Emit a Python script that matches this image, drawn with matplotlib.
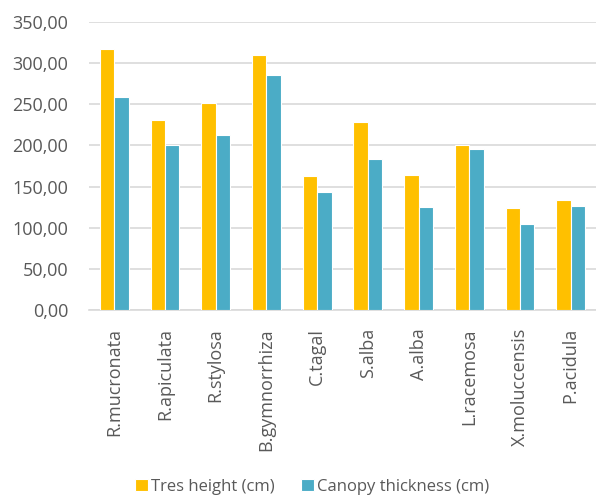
import matplotlib
matplotlib.use("Agg")
import matplotlib.pyplot as plt
import numpy as np
from matplotlib.ticker import FuncFormatter

species = ["R.mucronata", "R.apiculata", "R.stylosa", "B.gymnorrhiza", "C.tagal",
           "S.alba", "A.alba", "L.racemosa", "X.moluccensis", "P.acidula"]
tree_height = [317, 231, 251, 310, 163, 229, 164, 201, 124, 134]
canopy_thickness = [259, 201, 213, 286, 143, 183, 125, 196, 105, 126]
series_names = ["Tres height (cm)", "Canopy thickness (cm)"]

plt.rcParams['font.family'] = ['Open Sans', 'DejaVu Sans']
txt = "#595959"
grid = "#d9d9d9"

fig = plt.figure(figsize=(5.96, 4.95), dpi=100)
ax = fig.add_axes([89/596, 1 - 310/495, 507/596, 288/495])

x = np.arange(len(species))
w = 0.285
ax.bar(x - w/2, tree_height, w, color="#FFC000", edgecolor="white", linewidth=0.8,
       label=series_names[0], zorder=3)
ax.bar(x + w/2, canopy_thickness, w, color="#4BACC6", edgecolor="white", linewidth=0.8,
       label=series_names[1], zorder=3)

ax.set_xlim(-0.5, len(species) - 0.5)
ax.set_ylim(0, 350)
ax.set_yticks(np.arange(0, 351, 50))
ax.yaxis.set_major_formatter(FuncFormatter(lambda v, p: f"{v:.2f}".replace(".", ",")))
ax.set_xticks(x)
ax.set_xticklabels(species, rotation=90)

ax.grid(axis="y", color=grid, linewidth=1.2, zorder=0)
for s in ["top", "right", "left"]:
    ax.spines[s].set_visible(False)
ax.spines["bottom"].set_color(grid)
ax.spines["bottom"].set_linewidth(1.2)
ax.tick_params(axis="both", length=0, colors=txt, labelsize=13)
ax.tick_params(axis="y", pad=15)
ax.tick_params(axis="x", pad=13)

fig.legend(loc="center", bbox_to_anchor=(0.524, 1 - 487/495), ncol=2, frameon=False,
           fontsize=12, labelcolor=txt, handlelength=0.75, handleheight=0.75,
           handletextpad=0.2, columnspacing=1.6)

fig.savefig("out.png", dpi=100)
